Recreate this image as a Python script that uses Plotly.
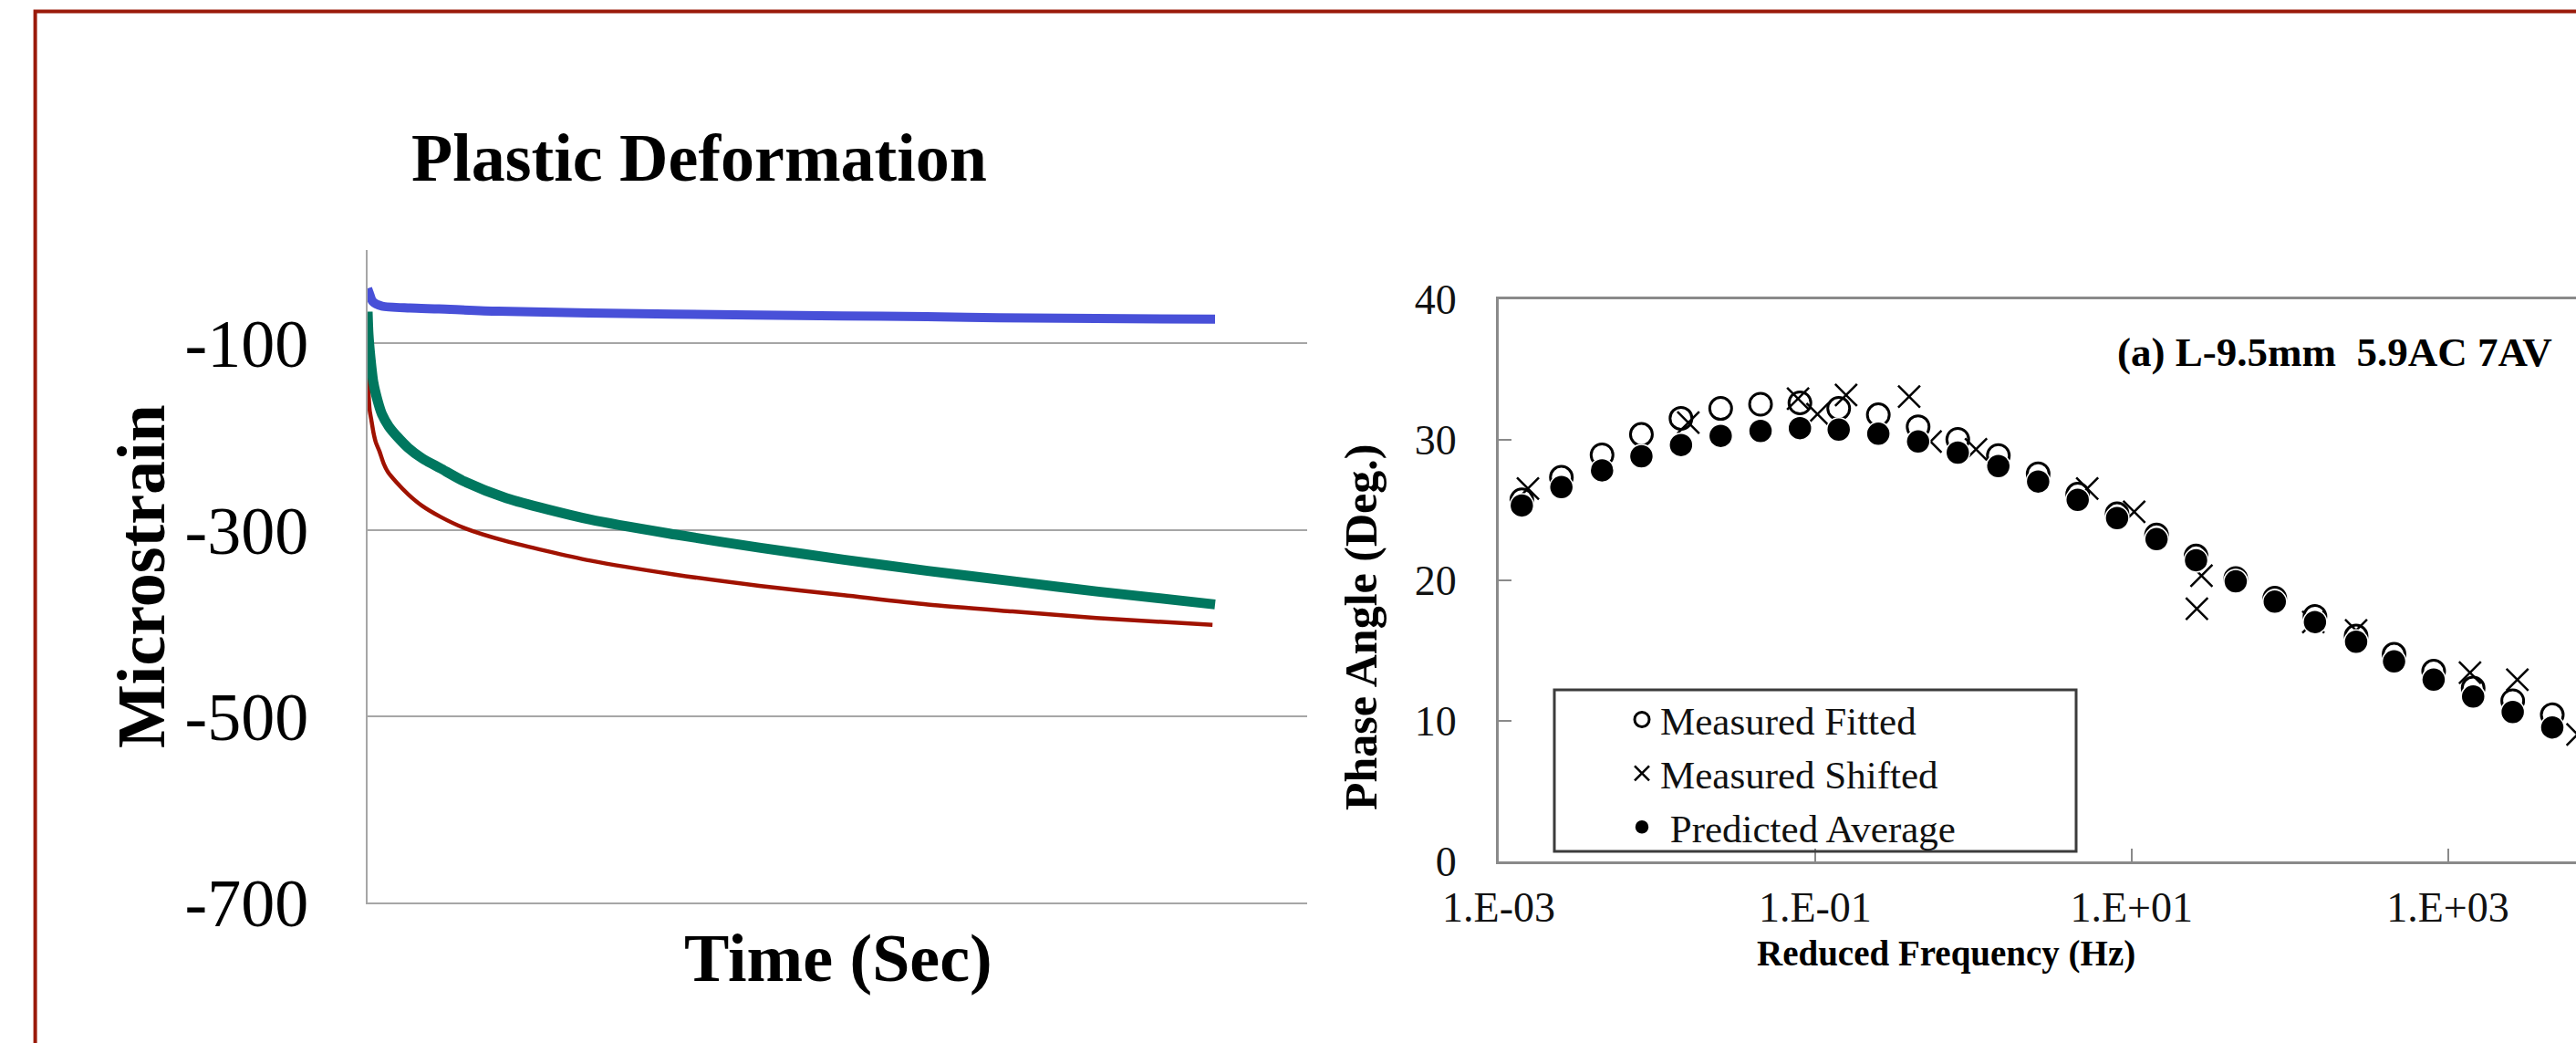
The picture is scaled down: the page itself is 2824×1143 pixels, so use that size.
import plotly.graph_objects as go

W, H = 2824, 1143

# ---------------- Left chart data (Plastic Deformation) ----------------
blue_time = [0, 20, 60, 170, 500, 840, 1540, 3600, 5600, 6600, 7450, 10000]
blue_strain = [-41, -46, -55, -60, -62, -63, -65.5, -68.5, -70.5, -71.2, -72.5, -74]

green_time = [0, 10, 33, 68, 120, 170, 250, 350, 480, 640, 860, 1140, 1640, 2630, 3630,
              4620, 5620, 6610, 7610, 8600, 10000]
green_strain = [-66, -90, -115, -142, -162, -176, -189, -200, -212, -223, -234, -248, -266,
                -289, -305, -319, -332, -344, -355, -366, -380]

red_time = [0, 10, 25, 42, 70, 100, 141, 190, 240, 340, 480, 640, 860, 1140, 1630, 2630,
            3630, 4620, 5620, 6610, 7610, 8600, 9970]
red_strain = [-112, -150, -172, -181, -196, -207, -216, -229, -238, -249, -262, -274, -286,
              -298, -312, -333, -348, -360, -370, -380, -387.5, -394.5, -402]

left_ytick_vals = [-700, -500, -300, -100]
left_ytick_text = ["-700", "-500", "-300", "-100"]

# ---------------- Right chart data (Phase angle master curve) ----------------
freq_avg = [1.40e-3, 2.49e-3, 4.50e-3, 7.98e-3, 1.42e-2, 2.53e-2, 4.52e-2, 8.02e-2,
            0.141, 0.251, 0.448, 0.798, 1.44, 2.57, 4.57, 8.11, 14.4, 25.6, 45.6,
            80.5, 144.5, 263, 457, 813, 1445, 2570, 4571]
predicted_avg = [25.3, 26.6, 27.8, 28.8, 29.6, 30.25, 30.6, 30.8, 30.7, 30.4, 29.85,
                 29.06, 28.1, 27.0, 25.7, 24.4, 22.9, 21.4, 19.9, 18.45, 17.0, 15.6,
                 14.2, 12.9, 11.7, 10.6, 9.5]
measured_fitted = [25.7, 27.3, 28.9, 30.35, 31.5, 32.2, 32.5, 32.6, 32.2, 31.75, 30.9,
                   30.0, 28.85, 27.55, 26.1, 24.7, 23.2, 21.7, 20.1, 18.7, 17.4, 16.0,
                   14.7, 13.5, 12.3, 11.4, 10.4]

freq_shift = [1.53e-3, 1.58e-2, 7.8e-2, 0.1035, 0.157, 0.393, 0.537, 1.04, 5.25, 10.4,
              25.9, 27.7, 141, 263, 1380, 2750, 6600]
measured_shifted = [26.5, 31.2, 32.9, 31.8, 33.15, 33.05, 29.85, 29.3, 26.5, 24.85,
                    17.95, 20.3, 17.0, 16.4, 13.4, 12.9, 9.0]

right_xtick_vals = [1e-3, 1e-1, 1e1, 1e3]
right_xtick_text = ["1.E-03", "1.E-01", "1.E+01", "1.E+03"]
right_ytick_vals = [0, 10, 20, 30, 40]
right_ytick_text = ["0", "10", "20", "30", "40"]

SERIF = "Liberation Serif"


def px_x(p):
    return p / W


def px_y(p):
    return 1 - p / H


fig = go.Figure()

# left chart lines
for t, v, col, w in [(blue_time, blue_strain, "#4850d8", 10),
                     (red_time, red_strain, "#a01200", 4.5),
                     (green_time, green_strain, "#00775f", 11)]:
    fig.add_trace(go.Scatter(x=t, y=v, mode="lines", xaxis="x", yaxis="y",
                             line=dict(color=col, width=w, shape="spline", smoothing=0.7),
                             showlegend=False, hoverinfo="skip"))

# right chart markers
fig.add_trace(go.Scatter(x=freq_avg, y=measured_fitted, mode="markers", name="Measured Fitted",
                         xaxis="x2", yaxis="y2",
                         marker=dict(symbol="circle-open", size=24, color="black",
                                     line=dict(width=3, color="black"))))
fig.add_trace(go.Scatter(x=freq_shift, y=measured_shifted, mode="markers", name="Measured Shifted",
                         xaxis="x2", yaxis="y2",
                         marker=dict(symbol="x-thin-open", size=24, color="black",
                                     line=dict(width=2.5, color="black"))))
fig.add_trace(go.Scatter(x=freq_avg, y=predicted_avg, mode="markers", name="\u00a0Predicted Average",
                         xaxis="x2", yaxis="y2",
                         marker=dict(symbol="circle", size=26, color="black",
                                     line=dict(width=1.5, color="white"))))

left_gray = "#a6a6a6"
right_gray = "#8a8a8a"

fig.update_layout(
    template="none",
    width=W, height=H, autosize=False,
    margin=dict(l=0, r=0, t=0, b=0, pad=0),
    paper_bgcolor="white", plot_bgcolor="white",
    font=dict(family=SERIF, color="black"),
    xaxis=dict(domain=[px_x(403), px_x(1433)], range=[0, 11087], automargin=False,
               showline=True, linecolor=left_gray, linewidth=2,
               showgrid=False, zeroline=False, showticklabels=False, ticks=""),
    yaxis=dict(domain=[px_y(989.3), px_y(274.2)], range=[-700, 0], anchor="x", automargin=False,
               tickvals=left_ytick_vals, ticktext=left_ytick_text,
               tickfont=dict(family=SERIF, size=74, color="black"),
               ticklabelstandoff=48,
               showline=True, linecolor=left_gray, linewidth=2,
               showgrid=True, gridcolor=left_gray, gridwidth=2,
               zeroline=False, ticks=""),
    xaxis2=dict(domain=[px_x(1643), 1.0], type="log", range=[-3, 3.81], anchor="y2",
                automargin=False,
                tickvals=right_xtick_vals, ticktext=right_xtick_text,
                tickfont=dict(family=SERIF, size=46, color="#111111"),
                ticks="inside", ticklen=14, tickwidth=2, tickcolor=right_gray,
                ticklabelstandoff=8,
                showline=True, linecolor=right_gray, linewidth=3, mirror=True,
                showgrid=False, zeroline=False),
    yaxis2=dict(domain=[px_y(943.5), px_y(327.5)], range=[0, 40], anchor="x2",
                automargin=False,
                tickvals=right_ytick_vals, ticktext=right_ytick_text,
                tickfont=dict(family=SERIF, size=46, color="#111111"),
                ticks="inside", ticklen=14, tickwidth=2, tickcolor=right_gray,
                ticklabelstandoff=34,
                showline=True, linecolor=right_gray, linewidth=3, mirror=False,
                showgrid=False, zeroline=False),
    showlegend=True,
    legend=dict(x=px_x(1780), y=px_y(754), xanchor="left", yanchor="top",
                bgcolor="rgba(0,0,0,0)", borderwidth=0,
                font=dict(family=SERIF, size=43, color="#111111"),
                itemwidth=30, tracegroupgap=0),
)

# legend box and the outer dark-red frame
fig.add_shape(type="rect", xref="paper", yref="paper",
              x0=px_x(1704), x1=px_x(2276), y0=px_y(933), y1=px_y(756),
              line=dict(color="#3c3c3c", width=3), fillcolor="rgba(0,0,0,0)", layer="above")
fig.add_shape(type="rect", xref="paper", yref="paper",
              x0=px_x(38.6), x1=1.05, y0=-0.05, y1=px_y(12.4),
              line=dict(color="#9a1a0a", width=4), fillcolor="rgba(0,0,0,0)")

ann = [
    dict(text="<b>Plastic Deformation</b>", x=px_x(766.5), y=px_y(172.7), size=74, angle=0),
    dict(text="<b>Microstrain</b>", x=px_x(155), y=px_y(632), size=74, angle=-90),
    dict(text="<b>Time (Sec)</b>", x=px_x(919), y=px_y(1050), size=74, angle=0),
    dict(text="<b>Phase Angle (Deg.)</b>", x=px_x(1492), y=px_y(687), size=50, angle=-90),
    dict(text="<b>Reduced Frequency (Hz)</b>", x=px_x(2133), y=px_y(1045), size=39, angle=0),
    dict(text="<b>(a) L-9.5mm\u00a0 5.9AC 7AV</b>", x=px_x(2559), y=px_y(386), size=45, angle=0),
]
for a in ann:
    fig.add_annotation(text=a["text"], x=a["x"], y=a["y"], xref="paper", yref="paper",
                       xanchor="center", yanchor="middle", showarrow=False,
                       textangle=a["angle"],
                       font=dict(family=SERIF, size=a["size"], color="black"))

fig.write_html("out.html")
